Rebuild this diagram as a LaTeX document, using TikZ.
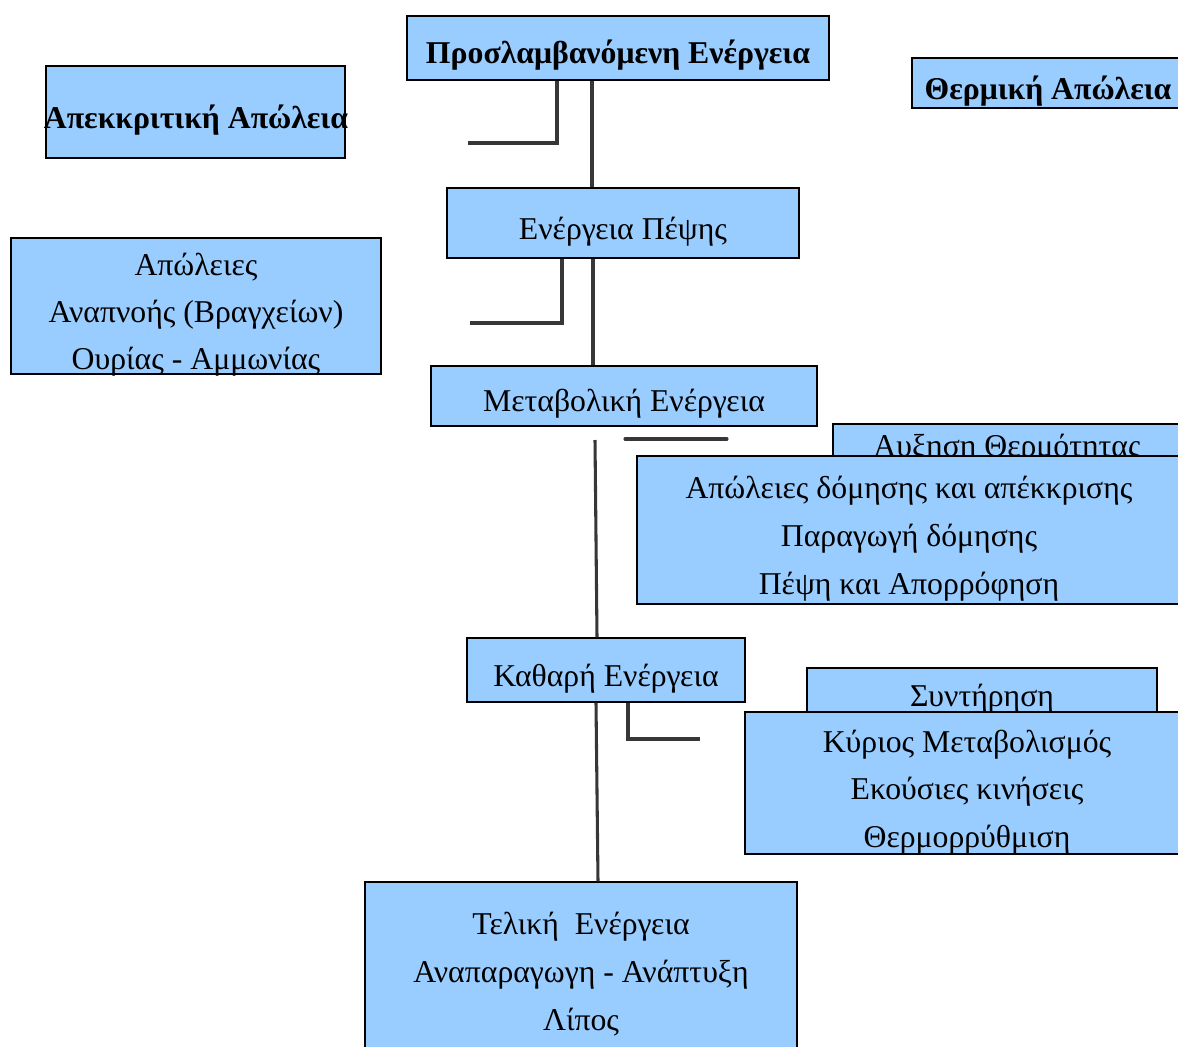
\documentclass[tikz,border=0pt]{standalone}
\usepackage{fontspec}
\setmainfont{Liberation Serif}
\usetikzlibrary{calc}
\definecolor{boxblue}{RGB}{153,204,255}
\definecolor{linegray}{RGB}{55,55,55}
\tikzset{
  box/.style={draw=black, fill=boxblue, line width=0.8pt, inner sep=0pt},
  txt/.style={anchor=base, inner sep=0pt, font=\fontsize{23.8}{28}\selectfont},
  btxt/.style={txt, font=\fontsize{23.8}{28}\selectfont\bfseries},
  conn/.style={draw=linegray, line width=2.3pt}
}
\begin{document}
\begin{tikzpicture}[x=0.75pt,y=-0.75pt]
\useasboundingbox (0,0) rectangle (1178,1046);
\clip (0,0) rectangle (1178,1046);
% boxes: node at center with fixed size
\newcommand{\pbox}[5]{\node[box, minimum width=#4*0.75pt, minimum height=#5*0.75pt] (#1) at (#2,#3) {};}
\pbox{b1}{618}{48}{422}{64}
\pbox{b2}{195.5}{112}{299}{92}
\pbox{b3}{1058}{83}{292}{50}
\pbox{b4}{623}{223}{352}{70}
\pbox{b5}{196}{306}{370}{136}
\pbox{b6}{624}{396}{386}{60}
\pbox{b7}{1015}{450}{364}{52}
\node[btxt] (t3) at (1048,99) {Θερμική Απώλεια};
\node[btxt] (t1) at (618,63) {Προσλαμβανόμενη Ενέργεια};
\node[btxt] (t2) at (196,128) {Απεκκριτική Απώλεια};
\node[txt] (t4) at (623,239) {Ενέργεια Πέψης};
\node[txt] (t5a) at (196,275) {Απώλειες};
\node[txt] (t5b) at (196,322) {Αναπνοής (Βραγχείων)};
\node[txt] (t5c) at (196,369) {Ουρίας - Αμμωνίας};
\node[txt] (t6) at (624,411) {Μεταβολική Ενέργεια};
\node[txt] (t7) at (1007,456) {Αυξηση Θερμότητας};
\pbox{b8}{917}{530}{560}{148}
\node[txt] (t8a) at (909,498) {Απώλειες δόμησης και απέκκρισης};
\node[txt] (t8b) at (909,546) {Παραγωγή δόμησης};
\node[txt] (t8c) at (909,594) {Πέψη και Απορρόφηση};
\pbox{b9}{606}{670}{278}{64}
\node[txt] (t9) at (606,686) {Καθαρή Ενέργεια};
\pbox{b10}{982}{692}{350}{48}
\node[txt] (t10) at (982,706) {Συντήρηση};
\pbox{b11}{971}{783}{452}{142}
\node[txt] (t11a) at (967,752) {Κύριος Μεταβολισμός};
\node[txt] (t11b) at (967,799) {Εκούσιες κινήσεις};
\node[txt] (t11c) at (967,847) {Θερμορρύθμιση};
\pbox{b12}{581}{970}{432}{176}
\node[txt] (t12a) at (581,934) {Τελική\ \ Ενέργεια};
\node[txt] (t12b) at (581,982) {Αναπαραγωγη - Ανάπτυξη};
\node[txt] (t12c) at (581,1030) {Λίπος};
% free ends
\coordinate (e1) at (468,143);
\coordinate (e2) at (470,323);
\coordinate (g1) at (595,440);
\coordinate (h1) at (625,439);
\coordinate (h2) at (727,439);
\coordinate (e3) at (700,739);
% connectors
\draw[conn] ($(b1.south)+(-61,0)$) |- (e1);
\draw[conn] ($(b1.south)+(-26,0)$) -- ($(b4.north)+(-31,0)$);
\draw[conn] ($(b4.south)+(-61,0)$) |- (e2);
\draw[conn] ($(b4.south)+(-30,0)$) -- ($(b6.north)+(-31,0)$);
\draw[conn] (g1) -- ($(b9.north)+(-9,0)$);
\draw[conn, line cap=round] (h1) -- (h2);
\draw[conn] ($(b9.south)+(22,0)$) |- (e3);
\draw[conn] ($(b9.south)+(-10,0)$) -- ($(b12.north)+(17,0)$);
\end{tikzpicture}
\end{document}
